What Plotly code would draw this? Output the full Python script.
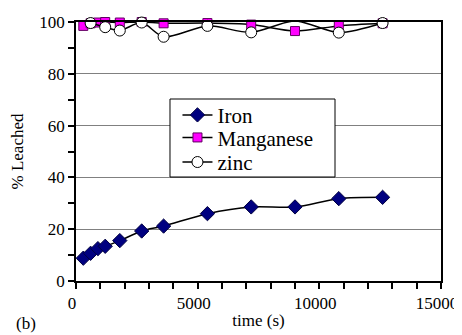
import plotly.graph_objects as go

time_s = [300, 600, 900, 1200, 1800, 2700, 3600, 5400, 7200, 9000, 10800, 12600]
iron = [8.8, 10.7, 12.5, 13.4, 15.6, 19.3, 21.2, 26.0, 28.6, 28.6, 31.8, 32.3]
manganese = [98.5, 99.5, 99.8, 100.0, 99.8, 100.0, 99.5, 99.6, 99.0, 96.5, 98.5, 99.5]
zinc_time = [600, 1200, 1800, 2700, 3600, 5400, 7200, 9000, 10800, 12600]
zinc = [99.6, 98.0, 96.7, 99.8, 94.3, 98.5, 96.0, 100.4, 95.9, 99.6]

FONT = "'Liberation Serif', 'Times New Roman', serif"
FS = 17
LFS = 21

fig = go.Figure()
fig.add_trace(go.Scatter(
    x=time_s, y=iron, name="Iron", mode="lines+markers", legend="legend",
    line=dict(color="black", width=1.5, shape="spline", smoothing=0.8),
    marker=dict(symbol="diamond", size=11, color="#000080",
                line=dict(color="#000040", width=1)),
    cliponaxis=False))
fig.add_trace(go.Scatter(
    x=time_s, y=manganese, name="Manganese", mode="lines+markers", legend="legend2",
    line=dict(color="black", width=1.5, shape="spline", smoothing=0.8),
    marker=dict(symbol="square", size=9, color="#FF00FF",
                line=dict(color="#600060", width=1)),
    cliponaxis=False))
fig.add_trace(go.Scatter(
    x=zinc_time, y=zinc, name="zinc", mode="lines+markers", legend="legend3",
    line=dict(color="black", width=1.5, shape="spline", smoothing=0.8),
    marker=dict(symbol="circle", size=11, color="white",
                line=dict(color="black", width=1)),
    cliponaxis=False))

def leg(yc):
    return dict(x=0.278, y=yc, xanchor="left", yanchor="middle",
                bgcolor="rgba(0,0,0,0)", borderwidth=0,
                font=dict(family=FONT, size=LFS, color="black"), itemwidth=30)

fig.update_layout(
    width=454, height=327,
    margin=dict(l=68, r=21, t=14, b=54, autoexpand=False),
    paper_bgcolor="white", plot_bgcolor="white",
    font=dict(family=FONT, size=FS, color="black"),
    showlegend=True,
    legend=leg(0.640),
    legend2=leg(0.553),
    legend3=leg(0.458),
    shapes=[dict(type="rect", xref="paper", yref="paper",
                 x0=0.2575, x1=0.7096, y0=0.4015, y1=0.7027,
                 fillcolor="white", line=dict(color="black", width=1), layer="above")],
    xaxis=dict(range=[0, 15000], dtick=5000, showgrid=False, zeroline=False,
               automargin=False,
               tickformat="d", ticklabeloverflow="allow", ticklabelshift=-4,
               showline=True, linecolor="black", linewidth=1.5, mirror=True,
               ticks="outside", ticklen=6, tickcolor="black", tickwidth=1.5,
               minor=dict(dtick=1000, ticks="outside", ticklen=6, tickcolor="black", tickwidth=1.5),
               title=dict(text="time (s)", font=dict(family=FONT, size=FS), standoff=2),
               tickfont=dict(family=FONT, size=FS)),
    yaxis=dict(range=[0, 100], dtick=20, showgrid=True, gridcolor="#808080", gridwidth=1,
               zeroline=False, automargin=False,
               showline=True, linecolor="black", linewidth=1.5, mirror=True,
               ticks="outside", ticklen=6, tickcolor="black", tickwidth=1.5,
               minor=dict(dtick=10, ticks="outside", ticklen=6, tickcolor="black", tickwidth=1.5),
               title=dict(text="% Leached", font=dict(family=FONT, size=FS), standoff=11),
               tickfont=dict(family=FONT, size=FS)),
)
fig.add_annotation(text="(b)", xref="paper", yref="paper", x=-0.167, y=-0.163,
                   xanchor="left", yanchor="middle", showarrow=False, borderpad=0,
                   font=dict(family=FONT, size=FS))
fig.write_html("out.html")
